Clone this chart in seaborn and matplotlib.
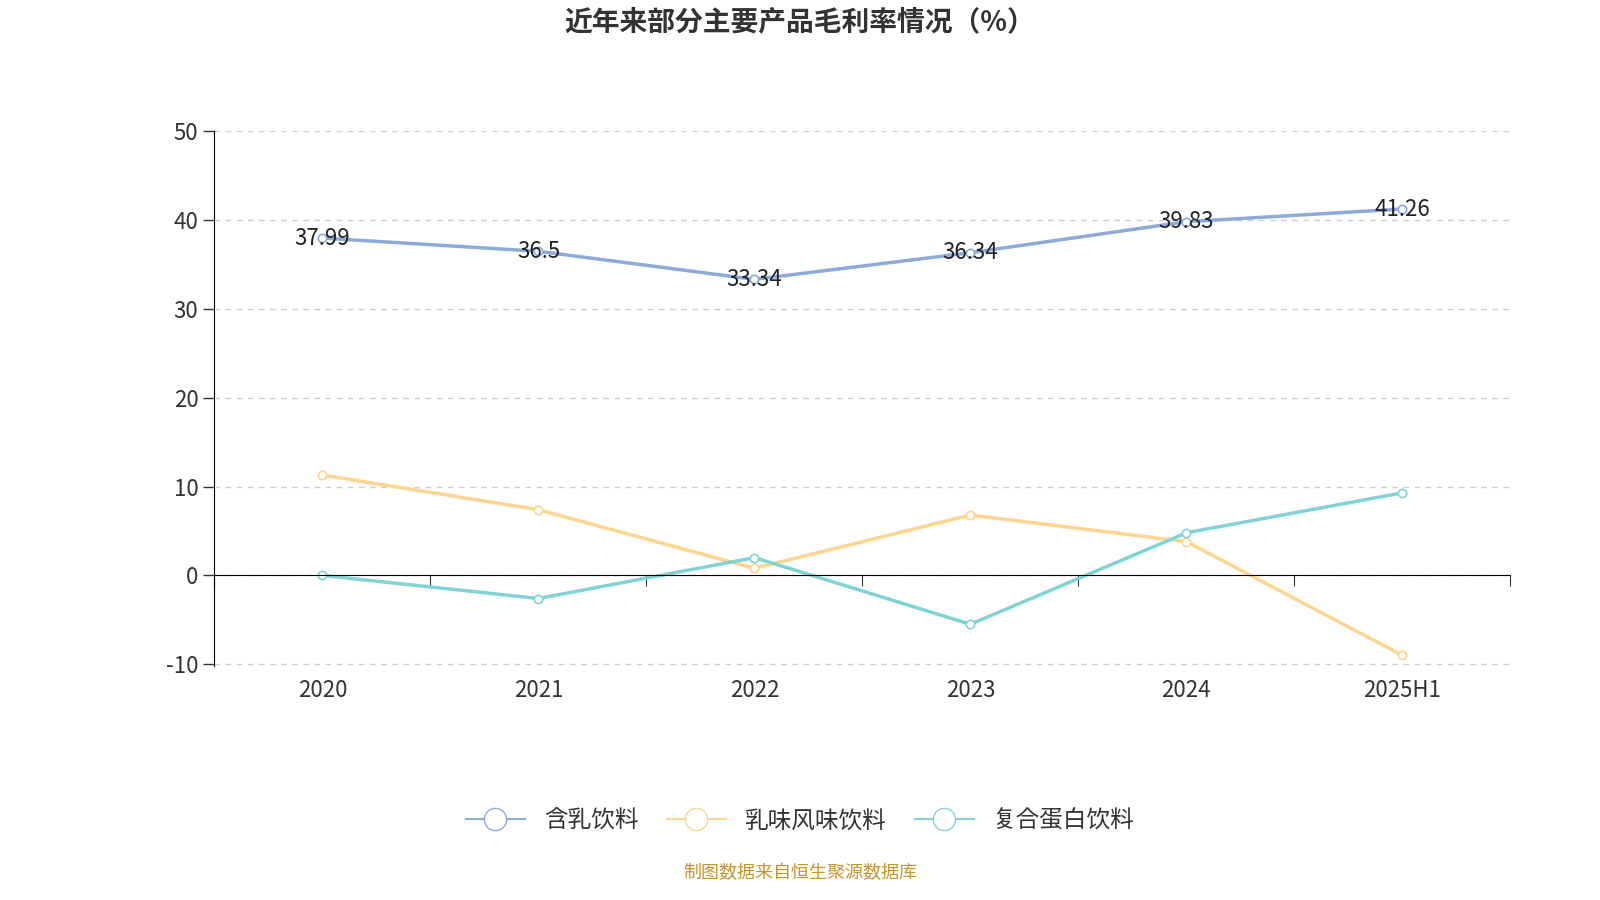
import matplotlib
matplotlib.use('Agg')
import matplotlib.pyplot as plt
import matplotlib.transforms as mtransforms
from matplotlib.lines import Line2D
import seaborn as sns
import pandas as pd

# 数据
years = ['2020', '2021', '2022', '2023', '2024', '2025H1']
hanru = [37.99, 36.5, 33.34, 36.34, 39.83, 41.26]
ruwei = [11.3, 7.4, 0.8, 6.8, 3.8, -9.0]
fuhe = [0.0, -2.6, 2.0, -5.5, 4.8, 9.3]
series_names = ['含乳饮料', '乳味风味饮料', '复合蛋白饮料']
colors = ['#8eaadb', '#fdd58f', '#7fd3d4']

plt.rcParams['font.family'] = 'sans-serif'
plt.rcParams['font.sans-serif'] = ['Noto Sans CJK SC', 'Noto Sans CJK JP', 'Noto Sans CJK TC',
                                   'Noto Sans CJK KR', 'DejaVu Sans']
plt.rcParams['axes.unicode_minus'] = False

df = pd.DataFrame({'x': list(range(len(years))) * 3,
                   'val': hanru + ruwei + fuhe,
                   'serie': sum([[n] * len(years) for n in series_names], [])})

fig = plt.figure(figsize=(16, 9), dpi=100)
ax = fig.add_axes([0.134, 0.26, 0.81, 0.594])

sns.lineplot(data=df, x='x', y='val', hue='serie', palette=colors, ax=ax,
             linewidth=2.5, marker='o', markersize=6, markerfacecolor='white',
             markeredgewidth=1.2, legend=False)
for line, c in zip(ax.lines, colors):
    line.set_markeredgecolor(c)

for i, v in enumerate(hanru):
    ax.text(i, v, str(v), ha='center', va='center', fontsize=16, color='#222222')

ax.set_xlim(-0.5, 5.5)
ax.set_ylim(-10.2, 50)
ax.set_yticks(range(-10, 51, 10))
ax.tick_params(axis='y', labelsize=16, colors='#333333', length=8, width=1)
for y in range(-10, 51, 10):
    ax.axhline(y, color='#cccccc', linestyle=(0, (4, 4)), linewidth=1, zorder=0)

ax.spines['top'].set_visible(False)
ax.spines['right'].set_visible(False)
ax.spines['bottom'].set_position(('data', 0))
ax.set_xticks([i - 0.5 for i in range(len(years) + 1)])
ax.set_xticklabels([])
ax.tick_params(axis='x', length=8, direction='out', colors='#333333')
trans = mtransforms.blended_transform_factory(ax.transData, ax.transAxes)
for i, y in enumerate(years):
    ax.text(i, -0.045, y, transform=trans, ha='center', va='center', fontsize=16, color='#333333')
ax.set_xlabel('')
ax.set_ylabel('')

handles = [Line2D([0], [0], color=c, lw=1.5, marker='o', markersize=16,
                  markerfacecolor='white', markeredgecolor=c) for c in colors]
fig.legend(handles, series_names, loc='center', bbox_to_anchor=(0.5, 0.088), ncol=3,
           frameon=False, fontsize=17, handlelength=2.5, columnspacing=1.2, labelcolor='#333333')

fig.text(0.5, 0.975, '近年来部分主要产品毛利率情况（%）', ha='center', va='center',
         fontsize=20, fontweight='bold', color='#333333')
fig.text(0.5, 0.03, '制图数据来自恒生聚源数据库', ha='center', va='center',
         fontsize=13, color='#c8922a')

fig.savefig('out.png', dpi=100)
